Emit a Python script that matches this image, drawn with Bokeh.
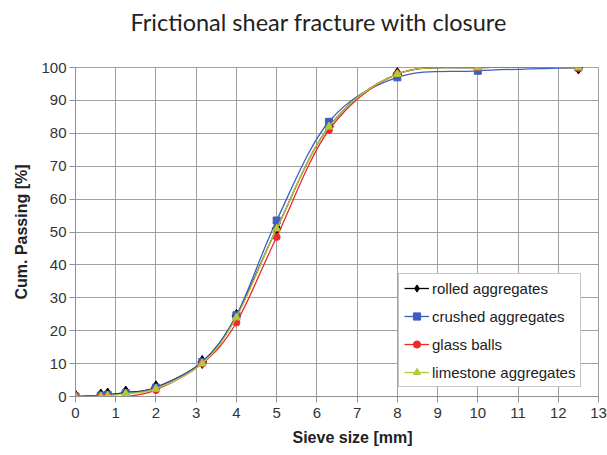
from bokeh.plotting import figure
from bokeh.models import Legend, LegendItem, FixedTicker, Title, Range1d
from bokeh.embed import file_html
from bokeh.resources import INLINE

sieve = [0, 0.63, 0.8, 1.25, 2, 3.15, 4, 5, 6.3, 8, 10, 12.5]
rolled = [0, 0.3, 0.6, 1.2, 2.8, 10.5, 24.5, 51, 82, 98, 100, 100]
crushed = [0, 0.3, 0.5, 1.0, 2.7, 10.5, 24.7, 53.5, 83.5, 97, 99, 100]
glass = [0, 0, 0, 0, 2.0, 10, 22.5, 48.5, 81, 98, 100, 100]
limestone = [0, 0, 0.2, 0.8, 2.3, 10, 24, 51, 82, 98, 100, 100]

series = [
    ("rolled aggregates", rolled, "#000000", "diamond", 13),
    ("crushed aggregates", crushed, "#3d5fc4", "square", 7),
    ("glass balls", glass, "#f02828", "circle", 7),
    ("limestone aggregates", limestone, "#b4c83c", "triangle", 8),
]

x_ticks = list(range(0, 14))
y_ticks = list(range(0, 101, 10))

p = figure(width=607, height=455, output_backend="svg", toolbar_location=None,
           x_range=Range1d(0, 13), y_range=Range1d(0, 100),
           min_border_left=75, min_border_right=9, min_border_top=67, min_border_bottom=59)
p.background_fill_color = "white"
p.border_fill_color = "white"
p.outline_line_color = "#a0a0a0"

p.xaxis.ticker = FixedTicker(ticks=x_ticks)
p.yaxis.ticker = FixedTicker(ticks=y_ticks)
p.xaxis.minor_tick_line_color = None
p.yaxis.minor_tick_line_color = None
for ax in (p.xaxis, p.yaxis):
    ax.axis_line_color = "#909090"
    ax.major_tick_line_color = "#909090"
    ax.major_tick_out = 6
    ax.major_tick_in = 0
    ax.major_label_text_font = "Liberation Sans"
    ax.major_label_text_font_size = "15px"
    ax.major_label_text_color = "#333333"
    ax.axis_label_text_font = "Liberation Sans"
    ax.axis_label_text_font_size = "16px"
    ax.axis_label_text_font_style = "bold"
    ax.axis_label_text_color = "#222222"
p.yaxis.axis_label = "Cum. Passing [%]"
p.xaxis.major_label_standoff = 5
p.yaxis.major_label_standoff = 3
p.yaxis.axis_label_standoff = 8

p.xgrid.grid_line_color = "#a0a0a0"
p.ygrid.grid_line_color = "#a0a0a0"

xlabel = Title(text="Sieve size [mm]", align="left", offset=217,
               text_font="Liberation Sans", text_font_size="16px",
               text_font_style="bold", text_color="#222222", standoff=13)
p.add_layout(xlabel, "below")

# invisible spacer between the frame and the title
spacer = Title(text=".", text_font_size="8px", standoff=25, text_color="white")
p.add_layout(spacer, "above")

p.title.text = "Frictional shear fracture with closure"
p.title.align = "left"
p.title.offset = 55
p.title.text_font = "Lato"
p.title.text_font_size = "23.5px"
p.title.text_font_style = "normal"
p.title.text_color = "#222222"
p.title.standoff = 0


def bezier_segments(xs, ys):
    n = len(xs)
    out = dict(x0=[], y0=[], x1=[], y1=[], cx0=[], cy0=[], cx1=[], cy1=[])
    for i in range(n - 1):
        xm, ym = (xs[i - 1], ys[i - 1]) if i > 0 else (xs[i], ys[i])
        xp, yp = (xs[i + 2], ys[i + 2]) if i + 2 < n else (xs[i + 1], ys[i + 1])
        out["x0"].append(xs[i]); out["y0"].append(ys[i])
        out["x1"].append(xs[i + 1]); out["y1"].append(ys[i + 1])
        out["cx0"].append(xs[i] + (xs[i + 1] - xm) / 6)
        out["cy0"].append(ys[i] + (ys[i + 1] - ym) / 6)
        out["cx1"].append(xs[i + 1] - (xp - xs[i]) / 6)
        out["cy1"].append(ys[i + 1] - (yp - ys[i]) / 6)
    return out


items = []
for name, vals, color, marker, size in series:
    seg = bezier_segments(sieve, vals)
    bz = p.bezier(line_color=color, line_width=1.3, **seg)
    sc = p.scatter(sieve, vals, marker=marker, size=size, fill_color=color,
                   line_color=color)
    items.append(LegendItem(label=name, renderers=[bz, sc]))

legend = Legend(items=items, location=(323, 9), border_line_color="#909090",
                label_text_font="Liberation Sans", label_text_font_size="15px",
                label_text_color="#222222", glyph_width=25, glyph_height=18,
                spacing=10, padding=5, margin=0, label_standoff=3,
                background_fill_color="white", background_fill_alpha=1)
p.add_layout(legend, "center")

open("out.html", "w").write(file_html(p, INLINE))
